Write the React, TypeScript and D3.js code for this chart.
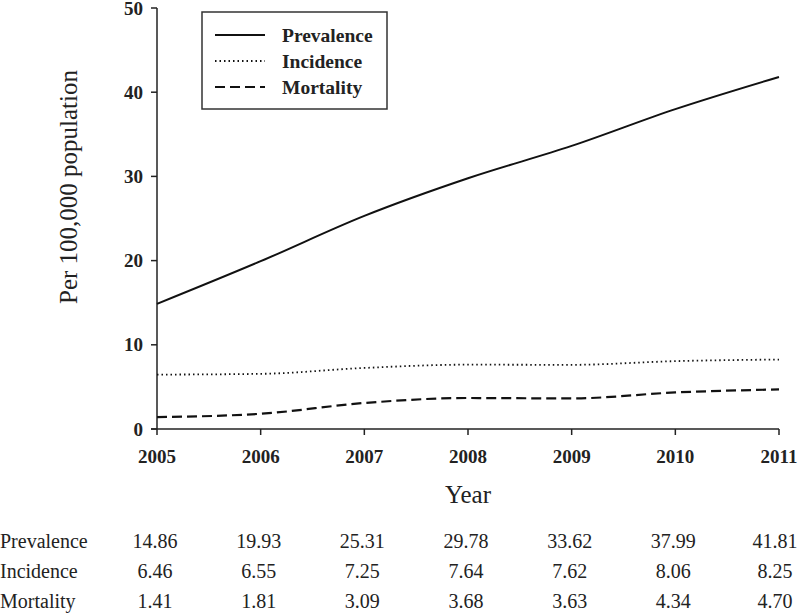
import React from "react";
import * as d3 from "d3";

const years = [2005, 2006, 2007, 2008, 2009, 2010, 2011];
const prevalence = [14.86, 19.93, 25.31, 29.78, 33.62, 37.99, 41.81];
const incidence = [6.46, 6.55, 7.25, 7.64, 7.62, 8.06, 8.25];
const mortality = [1.41, 1.81, 3.09, 3.68, 3.63, 4.34, 4.7];
const yTicks = [0, 10, 20, 30, 40, 50];

const series = [
  { name: "Prevalence", values: prevalence, dash: "none", width: 2 },
  { name: "Incidence", values: incidence, dash: "1.5,3", width: 1.8 },
  { name: "Mortality", values: mortality, dash: "10,5", width: 2.2 },
];

export default function App() {
  const width = 800;
  const height = 613;
  const font = "'Liberation Serif', 'Times New Roman', serif";

  const x = d3.scaleLinear().domain([2005, 2011]).range([157, 779]);
  const y = d3.scaleLinear().domain([0, 50]).range([429, 8]);

  const line = d3
    .line<number>()
    .x((d, i) => x(years[i]))
    .y((d) => y(d))
    .curve(d3.curveMonotoneX);

  const legend = { x: 202, y: 12, w: 185, h: 97 };

  return (
    <svg
      width={width}
      height={height}
      style={{ position: "absolute", left: 0, top: 0, background: "white" }}
      fontFamily={font}
    >
      {/* axes */}
      <path d={`M${x(2005)} ${y(0)} V${y(50)}`} stroke="#222" strokeWidth={1.5} />
      <path d={`M${x(2005) - 6} ${y(0)} H${x(2011)}`} stroke="#222" strokeWidth={1.5} />
      {yTicks.map((t) => (
        <g key={t}>
          <path d={`M${x(2005) - 6} ${y(t)} H${x(2005)}`} stroke="#222" strokeWidth={1.5} />
          <text x={x(2005) - 14} y={y(t)} dy="0.35em" textAnchor="end" fontSize={19} fontWeight="bold" fill="#222">
            {t}
          </text>
        </g>
      ))}
      {years.map((yr) => (
        <g key={yr}>
          <path d={`M${x(yr)} ${y(0)} v6`} stroke="#222" strokeWidth={1.5} />
          <text x={x(yr)} y={y(0) + 34} textAnchor="middle" fontSize={19} fontWeight="bold" fill="#222">
            {yr}
          </text>
        </g>
      ))}
      <text x={468} y={503} textAnchor="middle" fontSize={25} fill="#222">
        Year
      </text>
      <text transform="translate(77,187) rotate(-90)" textAnchor="middle" fontSize={25} fill="#222">
        Per 100,000 population
      </text>

      {/* lines */}
      {series.map((s) => (
        <path
          key={s.name}
          d={line(s.values) ?? ""}
          fill="none"
          stroke="#111"
          strokeWidth={s.width}
          strokeDasharray={s.dash}
        />
      ))}

      {/* legend */}
      <rect x={legend.x} y={legend.y} width={legend.w} height={legend.h} fill="white" stroke="#333" strokeWidth={1.5} />
      {series.map((s, i) => {
        const ly = 35 + i * 26;
        return (
          <g key={s.name}>
            <path d={`M215 ${ly} H265`} stroke="#111" strokeWidth={s.width} strokeDasharray={s.dash} />
            <text x={282} y={ly} dy="0.35em" fontSize={19.5} fontWeight="bold" fill="#222">
              {s.name}
            </text>
          </g>
        );
      })}

      {/* table */}
      {series.map((s, i) => {
        const ry = 541 + i * 30;
        return (
          <g key={s.name} fontSize={20} fill="#222">
            <text x={0} y={ry} dy="0.35em">
              {s.name}
            </text>
            {s.values.map((v, j) => (
              <text key={j} x={x(years[j]) - (j === years.length - 1 ? 4 : 2)} y={ry} dy="0.35em" textAnchor="middle">
                {v.toFixed(2)}
              </text>
            ))}
          </g>
        );
      })}
    </svg>
  );
}
